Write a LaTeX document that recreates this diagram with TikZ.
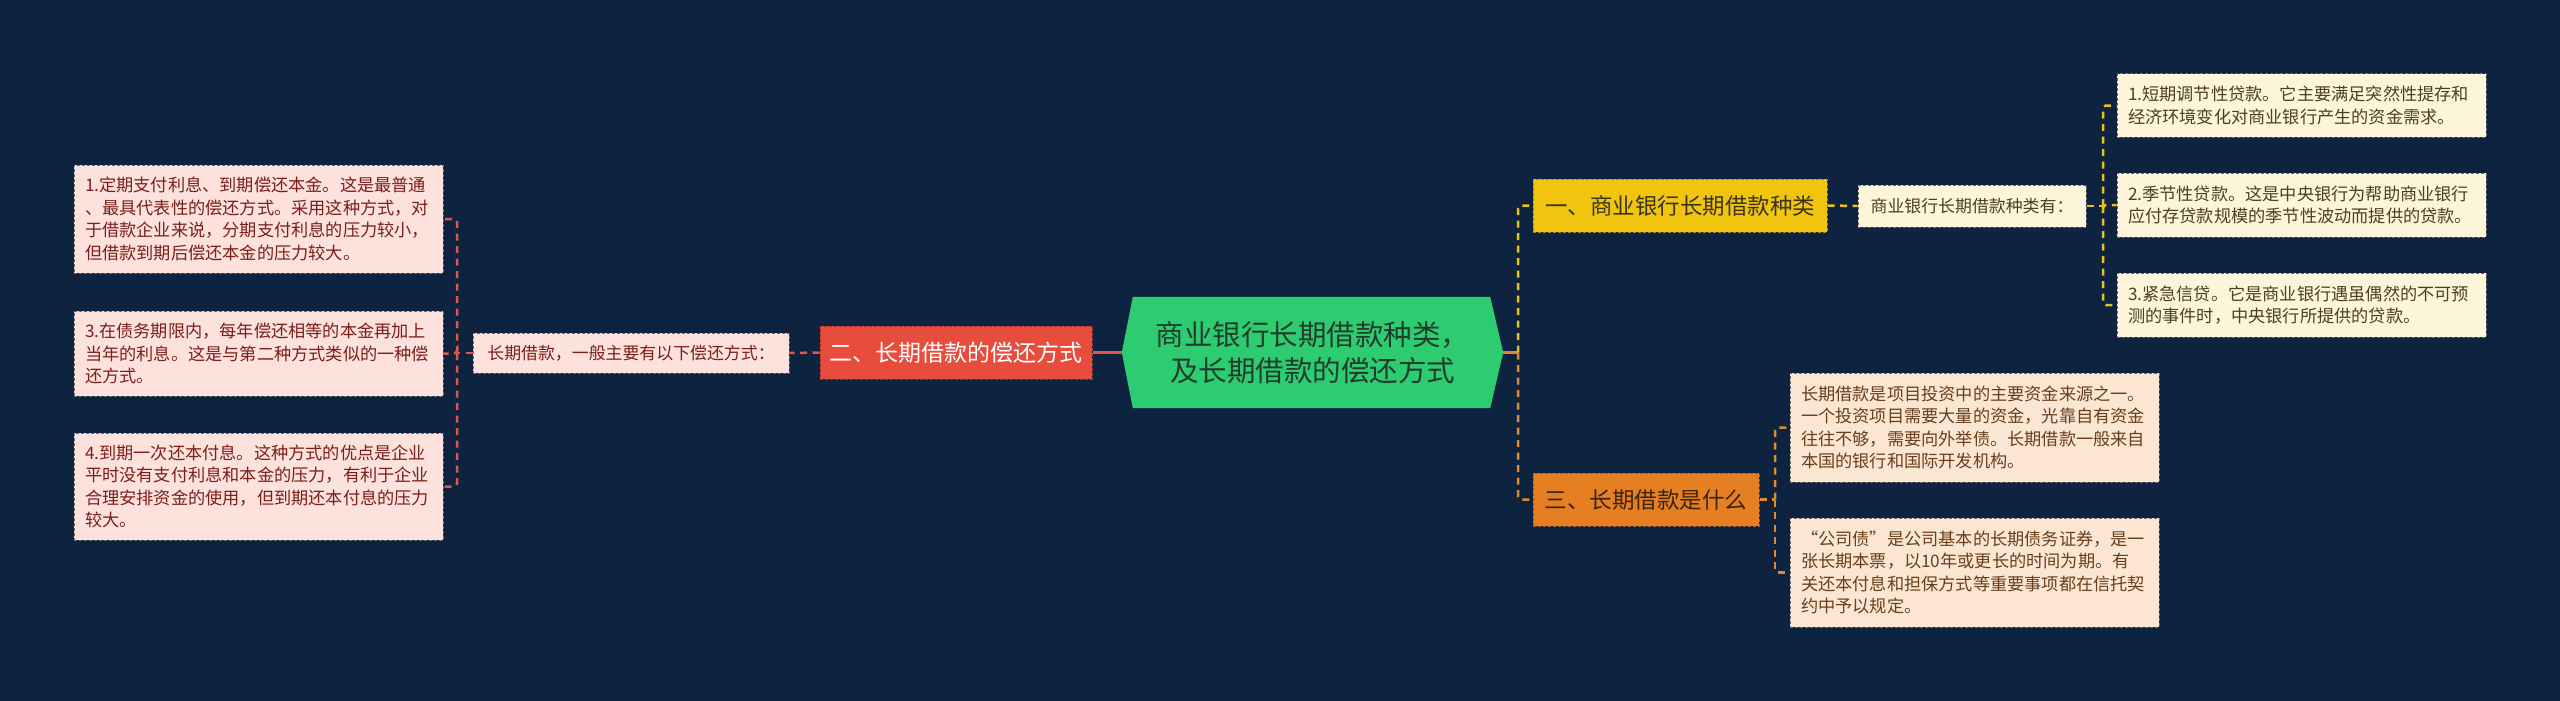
\documentclass[tikz,border=0pt]{standalone}
\usepackage{fontspec}
\setmainfont{Noto Sans CJK SC}
\usetikzlibrary{backgrounds}
\definecolor{bg}{HTML}{0D2340}
\definecolor{cG}{HTML}{2ECC71}
\definecolor{cT}{HTML}{1F3D2C}
\definecolor{rF}{HTML}{E74C3C}
\definecolor{rD}{HTML}{A8322A}
\definecolor{rL}{HTML}{E0564A}
\definecolor{pF}{HTML}{FCE1DC}
\definecolor{pT}{HTML}{7A1F1A}
\definecolor{yF}{HTML}{F1C40F}
\definecolor{yD}{HTML}{A88A08}
\definecolor{yT}{HTML}{3B3418}
\definecolor{yL}{HTML}{E8C21A}
\definecolor{crF}{HTML}{FDF5DA}
\definecolor{crT}{HTML}{4B4020}
\definecolor{oF}{HTML}{E67E22}
\definecolor{oD}{HTML}{A85A14}
\definecolor{oT}{HTML}{3A2410}
\definecolor{oL}{HTML}{E08A30}
\definecolor{peF}{HTML}{FBE6D4}
\definecolor{peT}{HTML}{6A3E1B}
\definecolor{lD}{HTML}{6B6B6B}
\tikzset{
  box/.style={rectangle, inner ysep=0pt, line width=1pt, dash pattern=on 3pt off 2pt},
  leaffont/.style={font={\fontsize{17.2}{22.5}\selectfont}},
  smallfont/.style={font={\fontsize{16.9}{22}\selectfont}},
  leaf/.style={box, leaffont, draw=lD, text width=347pt, inner xsep=11pt, align=left},
  small/.style={box, smallfont, draw=lD, inner xsep=0pt},
  mainbox/.style={box, font={\fontsize{22.5}{28}\selectfont}, inner xsep=0pt, minimum height=53pt},
  conn/.style={line width=2.5pt, dash pattern=on 7pt off 5.5pt, rounded corners=3pt},
  solidconn/.style={line width=2.5pt}
}
\begin{document}
\begin{tikzpicture}[x=1pt,y=-1pt]
\useasboundingbox (0,0) rectangle (2560,701);

% central
\node[font={\fontsize{28.5}{36}\selectfont}, text=cT, align=center, inner sep=0pt,
      minimum width=381pt, minimum height=111pt] (c) at (1312.5,352.5)
      {商业银行长期借款种类，\\及长期借款的偿还方式};

% left branch
\node[mainbox, fill=rF, draw=rD, text=white, font={\fontsize{23}{28}\selectfont},
      minimum width=272pt] (r2) at (956,352.5) {二、长期借款的偿还方式};
\node[small, fill=pF, text=pT, minimum width=316pt, minimum height=40pt] (l2) at (631,353)
      {长期借款，一般主要有以下偿还方式：};
\node[leaf, fill=pF, text=pT, minimum height=108pt] (L1) at (258.5,219)
      {1.定期支付利息、到期偿还本金。这是最普通\\、最具代表性的偿还方式。采用这种方式，对\\于借款企业来说，分期支付利息的压力较小，\\但借款到期后偿还本金的压力较大。};
\node[leaf, fill=pF, text=pT, minimum height=85pt] (L3) at (258.5,353.5)
      {3.在债务期限内，每年偿还相等的本金再加上\\当年的利息。这是与第二种方式类似的一种偿\\还方式。};
\node[leaf, fill=pF, text=pT, minimum height=107pt] (L4) at (258.5,486.5)
      {4.到期一次还本付息。这种方式的优点是企业\\平时没有支付利息和本金的压力，有利于企业\\合理安排资金的使用，但到期还本付息的压力\\较大。};

% right top branch
\node[mainbox, fill=yF, draw=yD, text=yT, minimum width=294pt] (y1) at (1680,205.5)
      {一、商业银行长期借款种类};
\node[small, fill=crF, text=crT, minimum width=228pt, minimum height=42pt] (s1) at (1972,206)
      {商业银行长期借款种类有：};
\node[leaf, fill=crF, text=crT, minimum height=63pt] (R1) at (2301.5,105.5)
      {1.短期调节性贷款。它主要满足突然性提存和\\经济环境变化对商业银行产生的资金需求。};
\node[leaf, fill=crF, text=crT, minimum height=64pt] (R2) at (2301.5,205)
      {2.季节性贷款。这是中央银行为帮助商业银行\\应付存贷款规模的季节性波动而提供的贷款。};
\node[leaf, fill=crF, text=crT, minimum height=64pt] (R3) at (2301.5,305)
      {3.紧急信贷。它是商业银行遇虽偶然的不可预\\测的事件时，中央银行所提供的贷款。};

% right bottom branch
\node[mainbox, fill=oF, draw=oD, text=oT, minimum width=226pt] (o3) at (1646,499.5)
      {三、长期借款是什么};
\node[leaf, fill=peF, text=peT, minimum height=109pt] (B1) at (1974.5,427.5)
      {长期借款是项目投资中的主要资金来源之一。\\一个投资项目需要大量的资金，光靠自有资金\\往往不够，需要向外举债。长期借款一般来自\\本国的银行和国际开发机构。};
\node[leaf, fill=peF, text=peT, minimum height=109pt] (B2) at (1974.5,572.5)
      {“公司债”是公司基本的长期债务证券，是一\\张长期本票，以10年或更长的时间为期。有\\关还本付息和担保方式等重要事项都在信托契\\约中予以规定。};

% junction coordinates
\coordinate (jl) at (457,353);
\coordinate (jc) at (1518,352.5);
\coordinate (js) at (2103,206);
\coordinate (jo) at (1775,499.5);

\begin{scope}[on background layer]
  \fill[bg] (0,0) rectangle (2560,701);
  \fill[cG] (c.west) -- ([xshift=11pt]c.north west) -- ([xshift=-13pt]c.north east)
        -- (c.east) -- ([xshift=-13pt]c.south east) -- ([xshift=11pt]c.south west) -- cycle;
  % left connectors
  \draw[solidconn, rL] (c.west) -- (r2.east);
  \draw[conn, rL] (r2.west) -- (l2.east);
  \draw[conn, rL] (l2.west) -- (jl);
  \draw[conn, rL] (jl) |- (L1.east);
  \draw[conn, rL] (jl) |- (L3.east);
  \draw[conn, rL] (jl) |- (L4.east);
  % right connectors
  \draw[solidconn, oL] (c.east) -- (jc);
  \draw[conn, yL] (jc) |- (y1.west);
  \draw[conn, oL] (jc) |- (o3.west);
  \draw[conn, yL] (y1.east) -- (s1.west);
  \draw[conn, yL] (s1.east) -- (js);
  \draw[conn, yL] (js) |- (R1.west);
  \draw[conn, yL] (js) |- (R2.west);
  \draw[conn, yL] (js) |- (R3.west);
  \draw[conn, oL] (o3.east) -- (jo);
  \draw[conn, oL] (jo) |- (B1.west);
  \draw[conn, oL] (jo) |- (B2.west);
\end{scope}
\end{tikzpicture}
\end{document}
